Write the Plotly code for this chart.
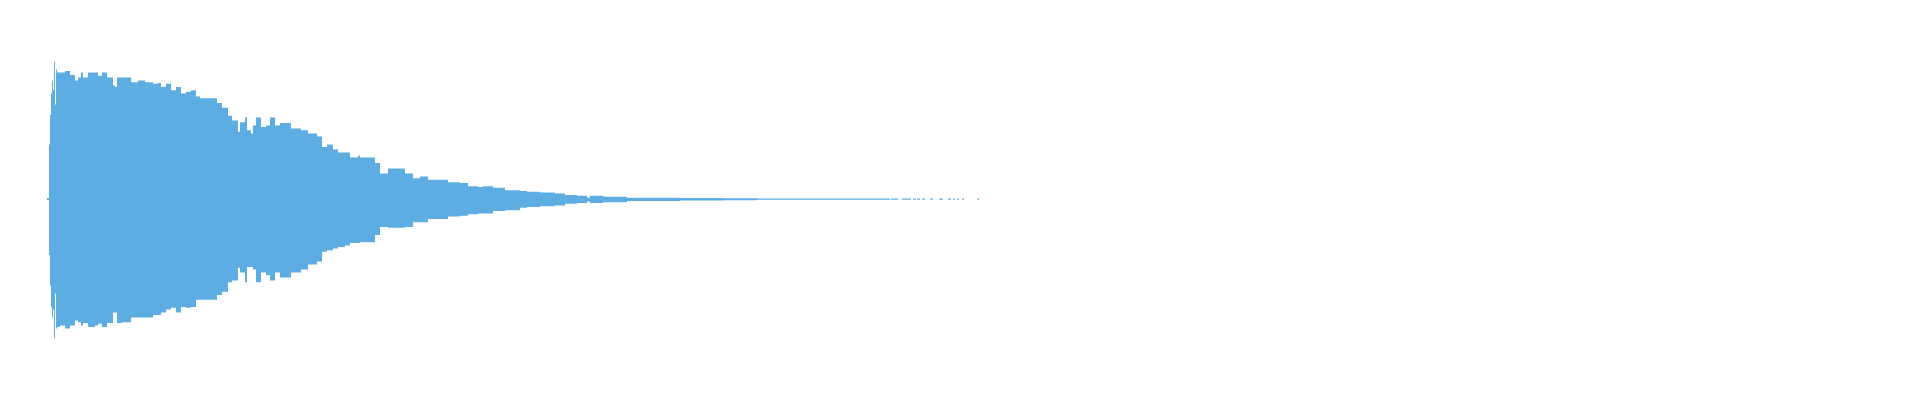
import plotly.graph_objects as go

# Time axis (ms) of envelope breakpoints
time_ms = [7, 9, 10, 11, 12, 13, 14, 15, 16, 17,
           20, 25, 30, 35, 38, 41, 43, 48, 55, 58,
           62, 67, 73, 75, 77, 82, 91, 98, 105, 113,
           118, 121, 126, 131, 136, 141, 146, 151, 156, 160,
           177, 182, 188, 192, 198, 200, 205, 207, 211, 213,
           216, 221, 226, 230, 235, 240, 251, 261, 268, 277,
           282, 287, 293, 298, 305, 310, 318, 320, 335, 340,
           348, 365, 373, 380, 388, 408, 420, 428, 438, 443,
           453, 465, 480, 487, 500, 515, 525, 537, 547, 550,
           563, 587, 640, 683, 717, 850, 851, 858, 862, 871,
           873, 876, 877, 880, 882, 885, 890, 893, 899, 903,
           908, 911, 913, 915, 917, 919, 922, 924, 937, 939]

# Peak (max) amplitude per block
peak_max = [0.006, 0.34, 0.525, 0.66, 0.74, 0.68, 0.86, 0.59, 0.81, 0.79,
            0.79, 0.80, 0.775, 0.74, 0.76, 0.79, 0.76, 0.79, 0.79, 0.77,
            0.79, 0.76, 0.71, 0.70, 0.76, 0.76, 0.73, 0.74, 0.73, 0.72,
            0.725, 0.70, 0.72, 0.68, 0.70, 0.66, 0.67, 0.68, 0.64, 0.63,
            0.60, 0.57, 0.52, 0.49, 0.42, 0.48, 0.51, 0.43, 0.41, 0.46,
            0.51, 0.45, 0.46, 0.51, 0.46, 0.475, 0.44, 0.43, 0.41, 0.39,
            0.325, 0.34, 0.31, 0.29, 0.29, 0.26, 0.27, 0.26, 0.225, 0.16,
            0.19, 0.16, 0.13, 0.14, 0.12, 0.105, 0.10, 0.08, 0.075, 0.08,
            0.07, 0.055, 0.05, 0.045, 0.04, 0.035, 0.025, 0.02, 0.008, 0.02,
            0.014, 0.008, 0.007, 0.005, 0.003, 0.0, 0.003, 0.0, 0.003, 0.0,
            0.003, 0.0, 0.003, 0.0, 0.003, 0.0, 0.003, 0.0, 0.003, 0.0,
            0.003, 0.0, 0.003, 0.0, 0.003, 0.0, 0.003, 0.0, 0.003, 0.0]

# Peak (min) amplitude per block
peak_min = [-0.006, -0.35, -0.54, -0.675, -0.74, -0.69, -0.87, -0.59, -0.81, -0.80,
            -0.79, -0.81, -0.79, -0.76, -0.77, -0.79, -0.775, -0.80, -0.79, -0.78,
            -0.80, -0.775, -0.71, -0.71, -0.775, -0.77, -0.74, -0.74, -0.74, -0.725,
            -0.725, -0.71, -0.69, -0.68, -0.71, -0.675, -0.68, -0.675, -0.63, -0.63,
            -0.60, -0.58, -0.52, -0.51, -0.43, -0.46, -0.52, -0.425, -0.425, -0.44,
            -0.52, -0.46, -0.475, -0.51, -0.46, -0.49, -0.46, -0.44, -0.41, -0.39,
            -0.33, -0.32, -0.31, -0.30, -0.29, -0.275, -0.275, -0.27, -0.225, -0.175,
            -0.18, -0.175, -0.145, -0.145, -0.125, -0.11, -0.105, -0.095, -0.09, -0.09,
            -0.075, -0.07, -0.055, -0.05, -0.045, -0.04, -0.03, -0.025, -0.015, -0.025,
            -0.02, -0.012, -0.01, -0.008, -0.004, 0.0, -0.004, 0.0, -0.004, 0.0,
            -0.004, 0.0, -0.004, 0.0, -0.004, 0.0, -0.004, 0.0, -0.004, 0.0,
            -0.004, 0.0, -0.004, 0.0, -0.004, 0.0, -0.004, 0.0, -0.004, 0.0]

WAVE = "#5dade2"

fig = go.Figure()
fig.add_trace(go.Scatter(
    x=time_ms, y=peak_max, mode="lines", line=dict(width=0, shape="hv", color=WAVE),
    hoverinfo="skip", showlegend=False))
fig.add_trace(go.Scatter(
    x=time_ms, y=peak_min, mode="lines", line=dict(width=0, shape="hv", color=WAVE),
    fill="tonexty", fillcolor=WAVE, hoverinfo="skip", showlegend=False))

fig.update_layout(
    width=1920, height=400,
    margin=dict(l=32, r=48, t=31, b=49),
    paper_bgcolor="white", plot_bgcolor="white",
    xaxis=dict(range=[0, 1840], visible=False, fixedrange=True),
    yaxis=dict(range=[-1, 1], visible=False, fixedrange=True),
)

fig.write_html("out.html")
